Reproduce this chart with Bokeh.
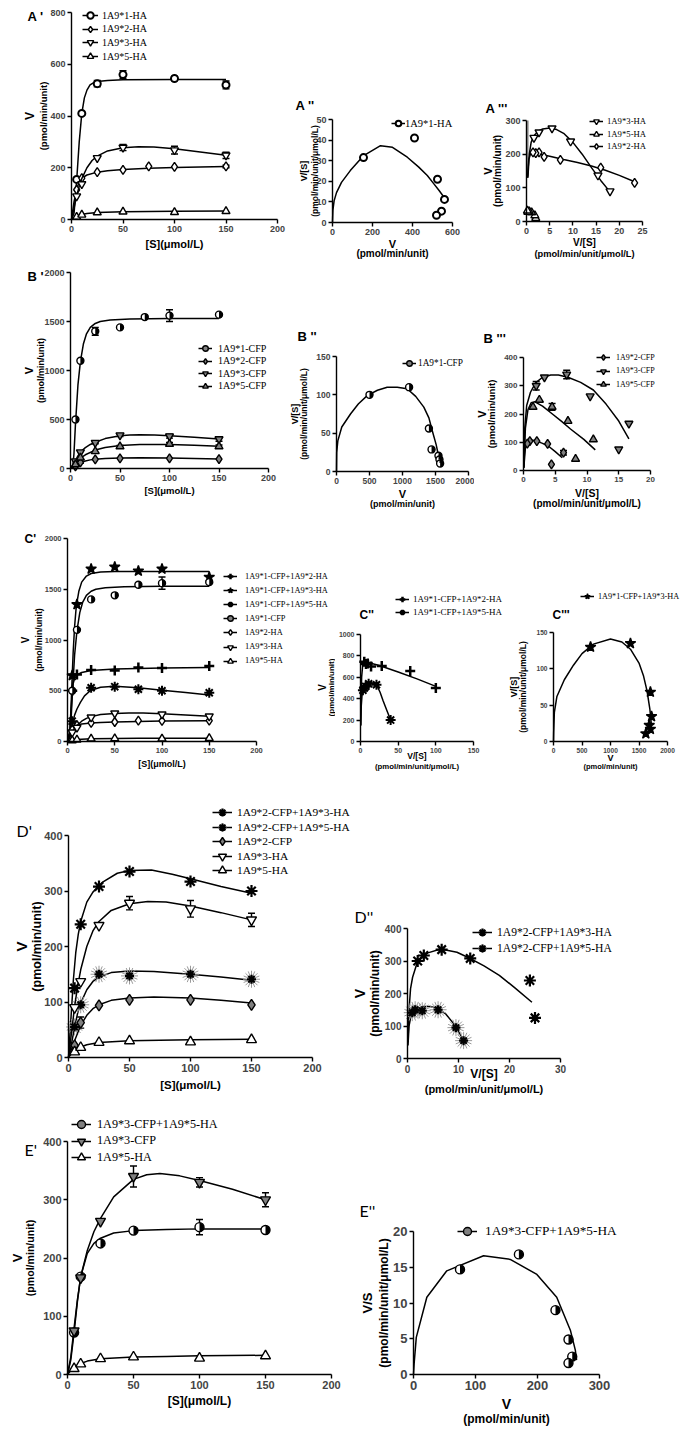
import math
from bokeh.plotting import figure
from bokeh.layouts import row, column
from bokeh.models import (Legend, LegendItem, Whisker, TeeHead, ColumnDataSource,
                          Label, Range1d, FixedTicker)
from bokeh.embed import file_html
from bokeh.resources import INLINE
from bokeh.core.properties import value

# ======================= DATA =======================
S6 = [5, 10, 25, 50, 100, 150]
S7 = [5, 10, 25, 50, 75, 100, 150]

# --- A' : HA-tagged enzymes, V vs [S]
HA1_V = [155, 410, 525, 560, 545, 520]
HA1_ERR = [0, 0, 12, 15, 8, 15]
HA2_V = [115, 160, 183, 192, 205, 203, 205]
HA2_ERR = [0, 0, 0, 0, 0, 0, 5]
HA3_V = [90, 137, 238, 278, 268, 248]
HA3_ERR = [0, 0, 0, 12, 15, 12]
HA5_V = [10, 18, 27, 30, 28, 32]
HA1_FIT_S = [0, 2.5, 5, 7.5, 10, 12.5, 15, 18, 22, 25, 35, 50, 100, 150]
HA1_FIT_V = [0, 25, 150, 300, 410, 470, 500, 520, 530, 533, 537, 540, 541, 541]
HA2_FIT_S = [0, 2.5, 5, 7.5, 10, 15, 25, 35, 50, 75, 100, 150]
HA2_FIT_V = [0, 70, 118, 145, 160, 172, 183, 188, 193, 198, 201, 205]
HA3_FIT_S = [0, 2.5, 5, 7.5, 10, 15, 20, 25, 35, 50, 65, 80, 100, 125, 150]
HA3_FIT_V = [0, 45, 92, 128, 158, 200, 228, 245, 265, 277, 281, 280, 273, 261, 248]
HA5_FIT_S = [0, 2.5, 5, 10, 15, 25, 50, 75, 100, 150]
HA5_FIT_V = [0, 7, 12, 19, 23, 27, 30, 31, 32, 33]

# --- A'' : V/[S] vs V, 1A9*1-HA
EH_HA1_V = [155, 410, 525, 560, 545, 520]
EH_HA1_VS = [31.5, 41, 21, 11.2, 5.5, 3.5]
EH_HA1_FIT_V = [0, 2, 8, 20, 45, 89, 156, 240, 300, 374, 430, 474, 505, 533, 552, 566]
EH_HA1_FIT_VS = [0, 6, 10.5, 14.5, 19.5, 25.2, 32.5, 37.3, 36.5, 31.7, 27, 22.8, 19, 15.5, 13, 10.7]

# --- A''' : V vs V/[S]
EH_HA3_VS = [18, 15.4, 9.5, 5.5, 2.7, 1.6]
EH_HA3_V = [90, 137, 238, 277, 265, 249]
EH_HA5_VS = [2.0, 1.8, 1.1, 0.6, 0.3, 0.2]
EH_HA5_V = [10, 18, 27, 30, 28, 32]
EH_HA2_VS = [23.3, 16, 7.3, 3.8, 2.7, 2.0, 1.4]
EH_HA2_V = [115, 160, 183, 192, 205, 203, 205]
EH_HA3_FIT_VS = [0.3, 0.6, 1, 1.6, 2.5, 3.5, 5, 6.5, 8, 10, 12, 14, 16, 18]
EH_HA3_FIT_V = [130, 200, 235, 255, 268, 275, 278, 273, 262, 235, 200, 160, 122, 88]
EH_HA3_STEEP_VS = [0.25, 0.3]
EH_HA3_STEEP_V = [135, 300]
EH_HA5_FIT_VS = [0.15, 0.5, 1, 1.5, 2, 2.3]
EH_HA5_FIT_V = [32, 31, 28, 22, 14, 8]
EH_HA2_FIT_VS = [0.2, 0.5, 0.9, 1.5, 3, 5, 8, 11, 14, 17, 20, 23.3]
EH_HA2_FIT_V = [130, 185, 202, 205, 200, 194, 184, 175, 165, 152, 137, 118]

# --- B' : CFP-tagged enzymes
CFP1_V = [500, 1100, 1400, 1440, 1545, 1560, 1570]
CFP1_ERR_B = [0, 0, 40, 0, 0, 60, 0]
CFP1_ERR_C = [0, 0, 0, 0, 0, 60, 0]
CFP1_FIT_S = [0, 2.5, 3.5, 5, 7.5, 10, 13, 16, 20, 25, 30, 40, 60, 100, 150]
CFP1_FIT_V = [0, 40, 150, 450, 850, 1090, 1270, 1370, 1440, 1480, 1500, 1515, 1525, 1530, 1530]
CFP2_V = [22, 63, 94, 104, 104, 95]
CFP2_ERR = [0, 10, 0, 0, 0, 0]
CFP2_FIT_S = [0, 5, 10, 15, 20, 25, 35, 50, 70, 100, 125, 150]
CFP2_FIT_V = [0, 30, 58, 76, 88, 95, 103, 107, 109, 107, 103, 98]
CFP3_V = [75, 166, 263, 340, 330, 300]
CFP3_ERR_B = [0, 0, 10, 15, 20, 22]
CFP3_ERR_E = [0, 0, 0, 18, 8, 12]
CFP3_FIT_S = [0, 2.5, 5, 7.5, 10, 15, 20, 25, 35, 50, 60, 70, 85, 100, 125, 150]
CFP3_FIT_V = [0, 30, 80, 128, 168, 213, 245, 268, 305, 335, 343, 345, 341, 333, 318, 300]
CFP5_V = [41, 110, 175, 225, 250, 225]
CFP5_ERR = [0, 0, 0, 10, 15, 15]
CFP5_FIT_S = [0, 5, 10, 15, 25, 35, 50, 70, 100, 125, 150]
CFP5_FIT_V = [0, 55, 105, 140, 188, 215, 235, 245, 245, 238, 228]

# --- B''
EH_CFP1_V = [500, 1100, 1400, 1440, 1545, 1560, 1570]
EH_CFP1_VS = [100, 110, 56, 28.8, 20.6, 15.6, 10.5]
EH_CFP1_FIT_V = [0, 3, 20, 80, 212, 330, 465, 620, 768, 920, 1071, 1200, 1323, 1400, 1450, 1510, 1550, 1580]
EH_CFP1_FIT_VS = [0, 25, 40, 58, 75, 88, 99, 106, 110, 110, 108, 98, 84, 70, 53.5, 35, 18.6, 10]

# --- B'''
EH_CFP2_VS = [4.4, 6.3, 3.8, 2.1, 1.0, 0.6]
EH_CFP2_V = [22, 63, 94, 104, 104, 95]
EH_CFP2_ERR = [0, 8, 0, 0, 0, 0]
EH_CFP3_VS = [15, 16.6, 10.5, 6.8, 3.3, 2.0]
EH_CFP3_V = [75, 166, 263, 340, 330, 300]
EH_CFP3_ERR = [0, 0, 0, 15, 0, 15]
EH_CFP5_VS = [8.2, 11, 7, 4.5, 2.5, 1.5]
EH_CFP5_V = [41, 110, 175, 225, 250, 225]
EH_CFP5_ERR = [0, 0, 0, 12, 0, 0]
EH_CFP2_FIT_VS = [0.05, 0.3, 0.7, 1.2, 2, 3, 4, 5, 6.1]
EH_CFP2_FIT_V = [10, 80, 103, 108, 105, 96, 85, 67, 45]
EH_CFP3_FIT_VS = [0.05, 0.2, 0.5, 1.1, 1.9, 3, 4.3, 5.5, 7, 9, 11, 13, 15, 16.6]
EH_CFP3_FIT_V = [10, 150, 230, 277, 310, 330, 338, 338, 330, 312, 285, 235, 175, 112]
EH_CFP5_FIT_VS = [0.05, 0.3, 0.7, 1.2, 1.8, 3, 4.5, 6, 7.4, 9.5, 11.3]
EH_CFP5_FIT_V = [10, 150, 215, 240, 243, 228, 201, 174, 147, 110, 73]

# --- C' : co-expression with 1A9*1-CFP
MIX12_V = [500, 660, 705, 700, 730, 725, 745]
MIX12_FIT_S = [0, 2.5, 4, 5, 6, 7.5, 10, 15, 25, 50, 100, 150]
MIX12_FIT_V = [0, 120, 330, 480, 570, 620, 655, 680, 700, 715, 725, 728]
MIX13_V = [650, 1350, 1700, 1720, 1680, 1700, 1620]
MIX13_FIT_S = [0, 2.5, 4, 5, 6, 7.5, 9, 10, 12, 15, 20, 25, 35, 50, 100, 150]
MIX13_FIT_V = [0, 80, 400, 650, 880, 1130, 1300, 1370, 1480, 1570, 1630, 1655, 1670, 1675, 1676, 1676]
MIX15_S = [5, 25, 50, 75, 100, 150]
MIX15_V = [200, 530, 540, 515, 500, 480]
MIX15_FIT_S = [0, 2.5, 5, 7.5, 10, 13.8, 18, 24.3, 35, 50, 75, 100, 125, 150]
MIX15_FIT_V = [0, 60, 170, 260, 320, 387, 450, 502, 535, 545, 530, 506, 482, 457]

# --- C''
EH_MIX12_VS = [100, 66, 28.2, 14, 9.7, 7.3, 5]
EH_MIX12_V = [500, 660, 705, 700, 730, 725, 745]
EH_MIX12_FIT_VS = [0.3, 0.8, 1.5, 3, 5, 10, 25, 50, 75, 100]
EH_MIX12_FIT_V = [150, 400, 600, 720, 745, 738, 710, 650, 585, 515]
EH_MIX15_VS = [40, 21.2, 10.8, 6.9, 5, 3.2]
EH_MIX15_V = [200, 530, 540, 515, 500, 480]
EH_MIX15_FIT_VS = [0.3, 1, 2, 4, 7, 10, 14, 18, 22, 26, 30, 35, 40]
EH_MIX15_FIT_V = [150, 330, 430, 490, 525, 540, 548, 545, 520, 460, 380, 290, 200]

# --- C'''
EH_MIX13_V = [650, 1350, 1700, 1720, 1680, 1700, 1620]
EH_MIX13_VS = [130, 135, 68, 34.4, 22.4, 17, 10.8]
EH_MIX13_FIT_V = [0, 3, 15, 60, 190, 350, 500, 700, 1000, 1200, 1350, 1500, 1580, 1640, 1690, 1715]
EH_MIX13_FIT_VS = [0, 12, 40, 62, 85, 105, 121, 134, 141, 137, 127, 108, 90, 70, 45, 25]

# --- D' : co-expression with 1A9*2-CFP
MIX23_V = [125, 240, 308, 335, 317, 300]
MIX23_FIT_S = [0, 2, 4, 6, 8, 10, 15, 20, 28, 40, 50, 68, 85, 100, 125, 150]
MIX23_FIT_V = [0, 70, 140, 190, 222, 245, 280, 298, 316, 332, 337, 338, 330, 322, 308, 296]
MIX25_V = [55, 95, 150, 147, 150, 141]
MIX25_FIT_S = [0, 2.5, 5, 7.5, 10, 15, 20, 25, 35, 50, 70, 100, 125, 150]
MIX25_FIT_V = [0, 25, 55, 80, 98, 122, 137, 145, 153, 156, 155, 150, 145, 139]

# --- D''
EH_MIX23_VS = [25, 24, 12.3, 6.7, 3.2, 2.0]
EH_MIX23_V = [125, 240, 308, 335, 317, 300]
EH_MIX23_FIT_VS = [0.1, 0.3, 0.6, 1, 2, 4, 6.5, 9.7, 12, 15, 18, 21, 24.4]
EH_MIX23_FIT_V = [50, 150, 215, 250, 300, 325, 337, 327, 310, 285, 256, 218, 173]
EH_MIX25_VS = [11, 9.5, 6, 2.9, 1.5, 0.94]
EH_MIX25_V = [55, 95, 150, 147, 150, 141]
EH_MIX25_FIT_VS = [0.1, 0.3, 0.7, 1.5, 3, 4.5, 6, 7.5, 9, 10.3, 11.3]
EH_MIX25_FIT_V = [40, 100, 133, 150, 160, 160, 153, 137, 108, 75, 50]

# --- E' : 1A9*3-CFP + 1A9*5-HA
MIX35_V = [72, 168, 225, 247, 253, 248]
MIX35_ERR = [0, 0, 0, 0, 13, 0]
MIX35_FIT_S = [0, 2.5, 5, 7.5, 10, 15, 20, 25, 35, 50, 75, 100, 150]
MIX35_FIT_V = [0, 25, 72, 125, 168, 208, 225, 234, 243, 247, 249, 250, 250]

# --- E''
EH_MIX35_V = [75, 170, 229, 250, 256, 250]
EH_MIX35_VS = [14.7, 16.8, 9, 4.9, 2.5, 1.6]
EH_MIX35_FIT_V = [0, 1, 4.5, 21.5, 53.7, 113, 156, 199, 231, 253, 261, 263]
EH_MIX35_FIT_VS = [0, 1.5, 5.2, 10.8, 14.5, 16.6, 16.1, 14, 10.8, 6.2, 3.4, 2]

# ======================= STYLE / HELPERS =======================
SANS = "Liberation Sans"
SERIF = "Liberation Serif"
PANEL_FONT = "Lato"
HALF = "#808080"
NAN = float("nan")
T_S = "[S](μmol/L)"
T_V = "V"
T_VS = "V/[S]"
T_U = "(pmol/min/unit)"
T_UU = "(pmol/min/unit/μmol/L)"


class Panel:
    """One chart.  (fx, fy, fw, fh) = pixels of the whole figure, which is all
    plotting frame; fr = (x0, x1, y0, y1) = pixels of the axes' extents.
    The axes sit at the data origin (fixed_location) and keep their bounds."""

    def __init__(self, fx, fy, fw, fh, fr, xr, yr, xt, yt, tick_px):
        x0, x1, y0, y1 = fr
        self.fig = (fx, fy, fw, fh)
        self.fr, self.xr, self.yr = fr, xr, yr
        xa, xb = xr
        ya, yb = yr
        sx = (xb - xa) / (x1 - x0)
        sy = (yb - ya) / (y1 - y0)
        p = figure(frame_width=int(fw), frame_height=int(fh),
                   output_backend="svg", toolbar_location=None,
                   x_range=Range1d(xa + (fx - x0) * sx, xa + (fx + fw - x0) * sx),
                   y_range=Range1d(ya + (y1 - fy - fh) * sy, ya + (y1 - fy) * sy),
                   min_border_left=0, min_border_right=0,
                   min_border_top=0, min_border_bottom=0)
        try:
            p.frame_align = False
        except Exception:
            pass
        p.outline_line_color = None
        p.xgrid.visible = False
        p.ygrid.visible = False
        for ax, ticks, bnd, loc in ((p.xaxis[0], xt, xr, ya), (p.yaxis[0], yt, yr, xa)):
            ax.fixed_location = loc
            ax.bounds = bnd
            ax.ticker = FixedTicker(ticks=ticks)
            ax.axis_line_width = 1.4
            ax.major_tick_line_width = 1.4
            ax.major_tick_out = 4
            ax.major_tick_in = 0
            ax.minor_tick_line_color = None
            ax.major_label_text_font = SANS
            ax.major_label_text_font_style = "bold"
            ax.major_label_text_font_size = f"{tick_px}px"
            ax.major_label_standoff = 2
        self.p = p

    def to_data(self, px, py):
        x0, x1, y0, y1 = self.fr
        xa, xb = self.xr
        ya, yb = self.yr
        return (xa + (px - x0) / (x1 - x0) * (xb - xa),
                ya + (y1 - py) / (y1 - y0) * (yb - ya))

    def label(self, px, py, text, size, font=SANS, style="bold", angle=0,
              align="left", baseline="top"):
        x, y = self.to_data(px, py)
        self.p.add_layout(Label(x=x, y=y, text=text, text_font=font,
                                text_font_size=f"{size}px", text_font_style=style,
                                angle=angle, text_align=align, text_baseline=baseline,
                                text_color="black"))

    def titles(self, ylines=(), xlines=(), yc=None, xc=None):
        x0, x1, y0, y1 = self.fr
        yc = (y0 + y1) / 2 if yc is None else yc
        xc = (x0 + x1) / 2 if xc is None else xc
        for text, px, size in ylines:
            self.label(px, yc, text, size, angle=math.pi / 2, align="center", baseline="middle")
        for text, py, size in xlines:
            self.label(xc, py, text, size, align="center", baseline="middle")

    def series(self, xs, ys, marker, size, fill="white", lw=1.4, fit=None,
               err=None, half=None, halo=None):
        p = self.p
        rends = []
        if fit is not None:
            rends.append(p.line(fit[0], fit[1], line_color="black", line_width=1.5))
        if err is not None:
            bx = [x for x, e in zip(xs, err) if e]
            up = [y + e for y, e in zip(ys, err) if e]
            lo = [y - e for y, e in zip(ys, err) if e]
            if bx:
                src = ColumnDataSource(dict(base=bx, upper=up, lower=lo))
                p.add_layout(Whisker(source=src, base="base", upper="upper", lower="lower",
                                     line_color="black", line_width=1.4,
                                     upper_head=TeeHead(size=7, line_width=1.4),
                                     lower_head=TeeHead(size=7, line_width=1.4)))
        if halo:
            for ang in (0, math.pi / 8):
                rends.append(p.scatter(xs, ys, marker="asterisk", size=halo, angle=ang,
                                       line_color="#9a9a9a", line_width=1))
        sr = p.scatter(xs, ys, marker=marker, size=size, fill_color=fill,
                       line_color="black", line_width=lw)
        rends.append(sr)
        if half == "circle":
            p.wedge(xs, ys, radius=size / 2, radius_units="screen",
                    start_angle=-math.pi / 2, end_angle=math.pi / 2,
                    fill_color="black", line_color=None)
            lg = p.scatter([NAN], [NAN], marker="circle", size=size, fill_color=HALF,
                           line_color="black", line_width=lw)
            rends = rends[:-1] + [lg]
        return rends

    def legend(self, entries, mx, yc1, dy, tx, font_px, gw=16, gh=18):
        fx, fy, fw, fh = self.fig
        for i, (lab, rends) in enumerate(entries):
            yc = yc1 + i * dy
            lx = mx - gw / 2
            leg = Legend(items=[LegendItem(label=value(lab), renderers=rends)],
                         location=(lx - fx, fy + fh - yc - gh / 2),
                         glyph_width=gw, glyph_height=gh, label_height=gh,
                         label_standoff=int(max(0, round(tx - lx - gw))),
                         padding=0, margin=0, spacing=0,
                         border_line_color=None, background_fill_alpha=0,
                         label_text_font=SERIF, label_text_font_size=f"{font_px}px",
                         label_text_color="black")
            self.p.add_layout(leg)


# ======================= ROW A =======================
A1 = Panel(0, 0, 290, 262, (71, 277, 12, 219), (0, 200), (0, 800),
           [0, 50, 100, 150, 200], [0, 200, 400, 600, 800], 9)
r1 = A1.series(S6, HA1_V, "circle", 7, lw=2, fit=(HA1_FIT_S, HA1_FIT_V), err=HA1_ERR)
r2 = A1.series(S7, HA2_V, "diamond", 9, fit=(HA2_FIT_S, HA2_FIT_V), err=HA2_ERR)
r3 = A1.series(S6, HA3_V, "inverted_triangle", 8, fit=(HA3_FIT_S, HA3_FIT_V), err=HA3_ERR)
r5 = A1.series(S6, HA5_V, "triangle", 8, fit=(HA5_FIT_S, HA5_FIT_V))
A1.legend([("1A9*1-HA", r1), ("1A9*2-HA", r2), ("1A9*3-HA", r3), ("1A9*5-HA", r5)],
          90, 15, 13.7, 102, 10)
A1.titles([(T_V, 29, 12), (T_U, 43, 9.5)], [(T_S, 243, 11)])
A1.label(27, 8, "A '", 13)

A2 = Panel(290, 0, 185, 262, (332, 452, 119, 222), (0, 600), (0, 50),
           [0, 200, 400, 600], [0, 10, 20, 30, 40, 50], 9)
r = A2.series(EH_HA1_V, EH_HA1_VS, "circle", 7, lw=2, fit=(EH_HA1_FIT_V, EH_HA1_FIT_VS))
A2.legend([("1A9*1-HA", r)], 398, 123, 13, 405, 10.5, gw=14)
A2.titles([(T_VS, 303, 9), (T_UU, 314, 8.5)], [(T_V, 243, 11), (T_U, 253, 10)])
A2.label(295, 97, "A ''", 13)

A3 = Panel(475, 0, 210, 262, (526, 642, 120, 221), (0, 25), (0, 300),
           [0, 5, 10, 15, 20, 25], [0, 100, 200, 300], 9)
A3.p.line(EH_HA3_STEEP_VS, EH_HA3_STEEP_V, line_color="#8c8c8c", line_width=1.5)
r3 = A3.series(EH_HA3_VS, EH_HA3_V, "inverted_triangle", 8, fit=(EH_HA3_FIT_VS, EH_HA3_FIT_V))
r5 = A3.series(EH_HA5_VS, EH_HA5_V, "triangle", 8, fit=(EH_HA5_FIT_VS, EH_HA5_FIT_V))
r2 = A3.series(EH_HA2_VS, EH_HA2_V, "diamond", 9, fit=(EH_HA2_FIT_VS, EH_HA2_FIT_V))
A3.legend([("1A9*3-HA", r3), ("1A9*5-HA", r5), ("1A9*2-HA", r2)], 596, 121, 12.5, 607, 8.7, gw=14)
A3.titles([(T_V, 487, 11), (T_U, 497, 10)], [(T_VS, 242, 10), (T_UU, 253, 9.3)])
A3.label(485, 100, "A '''", 13)

# ======================= ROW B =======================
B1 = Panel(0, 262, 280, 258, (70, 268, 272, 468), (0, 200), (0, 2000),
           [0, 50, 100, 150, 200], [0, 500, 1000, 1500, 2000], 9)
r1 = B1.series(S7, CFP1_V, "circle", 7, fit=(CFP1_FIT_S, CFP1_FIT_V), err=CFP1_ERR_B, half="circle")
r2 = B1.series(S6, CFP2_V, "diamond", 9, fill=HALF, fit=(CFP2_FIT_S, CFP2_FIT_V), err=CFP2_ERR)
r3 = B1.series(S6, CFP3_V, "inverted_triangle", 8, fill=HALF, fit=(CFP3_FIT_S, CFP3_FIT_V), err=CFP3_ERR_B)
r5 = B1.series(S6, CFP5_V, "triangle", 8, fill=HALF, fit=(CFP5_FIT_S, CFP5_FIT_V), err=CFP5_ERR)
B1.legend([("1A9*1-CFP", r1), ("1A9*2-CFP", r2), ("1A9*3-CFP", r3), ("1A9*5-CFP", r5)],
          205, 348, 12.5, 218, 10, gw=14)
B1.titles([(T_V, 28, 11), (T_U, 40, 9)], [(T_S, 490, 9.5)])
B1.label(27, 268, "B '", 13)

B2 = Panel(280, 262, 194, 258, (336, 468, 356, 471), (0, 2000), (0, 150),
           [0, 500, 1000, 1500, 2000], [0, 50, 100, 150], 8.5)
r = B2.series(EH_CFP1_V, EH_CFP1_VS, "circle", 7, fit=(EH_CFP1_FIT_V, EH_CFP1_FIT_VS), half="circle")
B2.legend([("1A9*1-CFP", r)], 409, 363, 13, 418, 9.3, gw=14)
B2.titles([(T_VS, 294, 9), (T_UU, 303, 8.5)], [(T_V, 493, 11), (T_U, 503, 9)])
B2.label(297, 328, "B ''", 13)

B3 = Panel(474, 262, 211, 258, (523, 650, 357, 470), (0, 20), (0, 400),
           [0, 5, 10, 15, 20], [0, 100, 200, 300, 400], 8)
r2 = B3.series(EH_CFP2_VS, EH_CFP2_V, "diamond", 9, fill=HALF, fit=(EH_CFP2_FIT_VS, EH_CFP2_FIT_V), err=EH_CFP2_ERR)
r3 = B3.series(EH_CFP3_VS, EH_CFP3_V, "inverted_triangle", 8, fill=HALF, fit=(EH_CFP3_FIT_VS, EH_CFP3_FIT_V), err=EH_CFP3_ERR)
r5 = B3.series(EH_CFP5_VS, EH_CFP5_V, "triangle", 8, fill=HALF, fit=(EH_CFP5_FIT_VS, EH_CFP5_FIT_V), err=EH_CFP5_ERR)
B3.legend([("1A9*2-CFP", r2), ("1A9*3-CFP", r3), ("1A9*5-CFP", r5)], 603, 357, 13.7, 616, 8, gw=14)
B3.titles([(T_V, 481, 11), (T_U, 491, 9.5)], [(T_VS, 492, 10.5), (T_UU, 503, 10)])
B3.label(483, 330, "B '''", 13)

# ======================= ROW C =======================
C1 = Panel(0, 520, 335, 275, (67, 256, 538, 741), (0, 200), (0, 2000),
           [0, 50, 100, 150, 200], [0, 500, 1000, 1500, 2000], 7.5)
rc12 = C1.series(S7, MIX12_V, "cross", 10, lw=2.5, fit=(MIX12_FIT_S, MIX12_FIT_V))
rc13 = C1.series(S7, MIX13_V, "star", 11, fill="black", fit=(MIX13_FIT_S, MIX13_FIT_V))
rc15 = C1.series(MIX15_S, MIX15_V, "asterisk", 10, lw=2, fit=(MIX15_FIT_S, MIX15_FIT_V))
rc1 = C1.series(S7, CFP1_V, "circle", 7, fit=(CFP1_FIT_S, CFP1_FIT_V), err=CFP1_ERR_C, half="circle")
rc2 = C1.series(S7, HA2_V, "diamond", 9, fit=(HA2_FIT_S, HA2_FIT_V))
rc3 = C1.series(S6, HA3_V, "inverted_triangle", 8, fit=(HA3_FIT_S, HA3_FIT_V))
rc5 = C1.series(S6, HA5_V, "triangle", 8, fit=(HA5_FIT_S, HA5_FIT_V))
C1.legend([("1A9*1-CFP+1A9*2-HA", rc12), ("1A9*1-CFP+1A9*3-HA", rc13),
           ("1A9*1-CFP+1A9*5-HA", rc15), ("1A9*1-CFP", rc1), ("1A9*2-HA", rc2),
           ("1A9*3-HA", rc3), ("1A9*5-HA", rc5)], 230, 576, 14.1, 245, 8.4, gw=14)
C1.titles([(T_V, 25, 10), (T_U, 38, 8.8)], [(T_S, 763, 9)])
C1.label(24, 531, "C'", 12)
# y-axis title of C'' (it sits left of the C'' figure, inside C' area)
C1.label(322, 687, T_V, 10, angle=math.pi / 2, align="center", baseline="middle")
C1.label(331, 687, T_U, 8, angle=math.pi / 2, align="center", baseline="middle")

C2 = Panel(335, 520, 170, 275, (360, 473, 634, 741), (0, 150), (0, 1000),
           [0, 50, 100, 150], [0, 200, 400, 600, 800, 1000], 7)
r12 = C2.series(EH_MIX12_VS, EH_MIX12_V, "cross", 10, lw=2.5, fit=(EH_MIX12_FIT_VS, EH_MIX12_FIT_V))
r15 = C2.series(EH_MIX15_VS, EH_MIX15_V, "asterisk", 10, lw=2, fit=(EH_MIX15_FIT_VS, EH_MIX15_FIT_V))
C2.legend([("1A9*1-CFP+1A9*2-HA", r12), ("1A9*1-CFP+1A9*5-HA", r15)], 402, 599, 12.7, 413, 9, gw=14)
C2.titles([], [(T_VS, 755, 8.5), (T_UU, 766, 7.8)])
C2.label(359, 607, "C''", 12)

C3 = Panel(505, 520, 180, 275, (553, 667, 632, 741), (0, 2000), (0, 150),
           [0, 500, 1000, 1500, 2000], [0, 50, 100, 150], 6.6)
r13 = C3.series(EH_MIX13_V, EH_MIX13_VS, "star", 11, fill="black", fit=(EH_MIX13_FIT_V, EH_MIX13_FIT_VS))
C3.legend([("1A9*1-CFP+1A9*3-HA", r13)], 587, 596, 13, 598, 8.2, gw=14)
C3.titles([(T_VS, 513, 9), (T_UU, 522, 8.5)], [(T_V, 757, 9), (T_U, 766, 7.5)])
C3.label(552, 607, "C'''", 12)

# ======================= ROW D =======================
D1 = Panel(0, 795, 351, 307, (68, 312, 835, 1057), (0, 200), (0, 400),
           [0, 50, 100, 150, 200], [0, 100, 200, 300, 400], 11)
r23 = D1.series(S6, MIX23_V, "asterisk", 12, lw=2.2, fit=(MIX23_FIT_S, MIX23_FIT_V))
r25 = D1.series(S6, MIX25_V, "asterisk", 9, lw=2.2, fit=(MIX25_FIT_S, MIX25_FIT_V), halo=17)
r2 = D1.series(S6, CFP2_V, "diamond", 11, fill=HALF, fit=(CFP2_FIT_S, CFP2_FIT_V), err=CFP2_ERR)
r3 = D1.series(S6, HA3_V, "inverted_triangle", 10, fit=(HA3_FIT_S, HA3_FIT_V), err=HA3_ERR)
r5 = D1.series(S6, HA5_V, "triangle", 10, fit=(HA5_FIT_S, HA5_FIT_V))
D1.legend([("1A9*2-CFP+1A9*3-HA", r23), ("1A9*2-CFP+1A9*5-HA", r25), ("1A9*2-CFP", r2),
           ("1A9*3-HA", r3), ("1A9*5-HA", r5)], 222, 812, 14.6, 237, 11.4, gw=20, gh=20)
D1.titles([(T_V, 21, 15), (T_U, 36, 12.5)], [(T_S, 1084, 11.5)])
D1.label(16, 820, "D'", 16, font=PANEL_FONT, style="normal")

D2 = Panel(351, 795, 334, 307, (407, 560, 928, 1058), (0, 30), (0, 400),
           [0, 10, 20, 30], [0, 100, 200, 300, 400], 10)
r23 = D2.series(EH_MIX23_VS, EH_MIX23_V, "asterisk", 12, lw=2.2, fit=(EH_MIX23_FIT_VS, EH_MIX23_FIT_V))
r25 = D2.series(EH_MIX25_VS, EH_MIX25_V, "asterisk", 9, lw=2.2, fit=(EH_MIX25_FIT_VS, EH_MIX25_FIT_V), halo=17)
D2.legend([("1A9*2-CFP+1A9*3-HA", r23), ("1A9*2-CFP+1A9*5-HA", r25)], 482, 932, 16, 497, 11.6, gw=20, gh=20)
D2.titles([(T_V, 359, 14), (T_U, 374, 12)], [(T_VS, 1073, 12), (T_UU, 1088, 11)])
D2.label(354, 906, "D''", 16, font=PANEL_FONT, style="normal")

# ======================= ROW E =======================
E1 = Panel(0, 1102, 345, 328, (67, 331, 1141, 1374), (0, 200), (0, 400),
           [0, 50, 100, 150, 200], [0, 100, 200, 300, 400], 11)
r35 = E1.series(S6, MIX35_V, "circle", 9, fit=(MIX35_FIT_S, MIX35_FIT_V), err=MIX35_ERR, half="circle")
r3 = E1.series(S6, CFP3_V, "inverted_triangle", 10, fill=HALF, fit=(CFP3_FIT_S, CFP3_FIT_V), err=CFP3_ERR_E)
r5 = E1.series(S6, HA5_V, "triangle", 10, fit=(HA5_FIT_S, HA5_FIT_V))
E1.legend([("1A9*3-CFP+1A9*5-HA", r35), ("1A9*3-CFP", r3), ("1A9*5-HA", r5)],
          81, 1124, 16.5, 97, 12.2, gw=20, gh=20)
E1.titles([(T_V, 17, 13), (T_U, 29, 10.6)], [(T_S, 1400, 12)])
E1.label(24, 1139, "E'", 16, font=PANEL_FONT, style="normal")

E2 = Panel(345, 1102, 340, 328, (413, 599, 1231, 1374), (0, 300), (0, 20),
           [0, 100, 200, 300], [0, 5, 10, 15, 20], 13)
r = E2.series(EH_MIX35_V, EH_MIX35_VS, "circle", 9, fit=(EH_MIX35_FIT_V, EH_MIX35_FIT_VS), half="circle")
E2.legend([("1A9*3-CFP+1A9*5-HA", r)], 467, 1231, 16, 485, 13.3, gw=20, gh=20)
E2.titles([("V/S", 367, 13), (T_UU, 383, 12)], [(T_V, 1403, 14), (T_U, 1418, 12)])
E2.label(359, 1200, "E''", 16, font=PANEL_FONT, style="normal")

layout = column(row(A1.p, A2.p, A3.p), row(B1.p, B2.p, B3.p), row(C1.p, C2.p, C3.p),
                row(D1.p, D2.p), row(E1.p, E2.p))

open("out.html", "w").write(file_html(layout, INLINE))
